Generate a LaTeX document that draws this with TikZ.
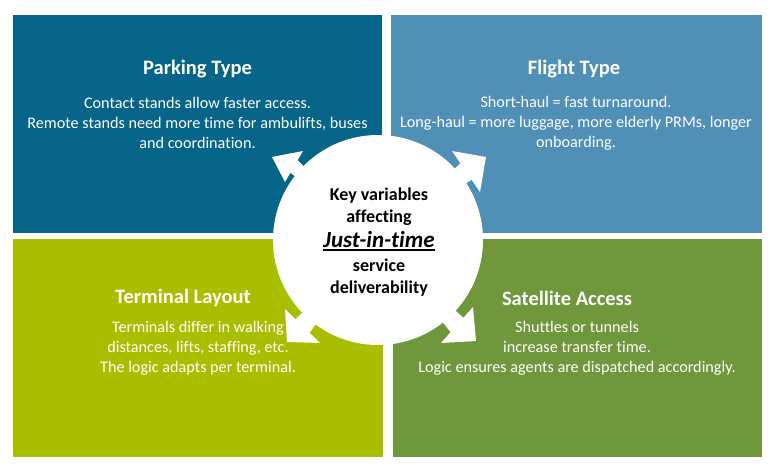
\documentclass[tikz,border=0pt]{standalone}
\usepackage{fontspec}
\setmainfont{Carlito}[Ligatures=NoCommon]
\usetikzlibrary{calc}
\definecolor{parkcol}{RGB}{6,101,136}
\definecolor{flightcol}{RGB}{80,144,183}
\definecolor{termcol}{RGB}{170,190,0}
\definecolor{satcol}{RGB}{111,151,59}
\newcommand{\ulbox}[1]{\leavevmode\vtop{\hbox{#1}\kern1.5pt\hrule height 1.5pt}}
\newcommand{\arrowhead}[3]{\fill[white] #1 -- #2 -- ($#2!0.3!#3$) -- (Hub.center) -- ($#2!0.7!#3$) -- #3 -- cycle;}

\begin{document}
\begin{tikzpicture}[x=1pt,y=-1pt,
    quad/.style={anchor=north west,inner sep=0pt,minimum height=218pt},
    head/.style={text=white,font=\fontsize{20.5}{24}\selectfont\bfseries},
    body/.style={text=white,align=center,font=\fontsize{16.2}{20}\selectfont},
    hub/.style={circle,fill=white,minimum size=210pt,inner sep=0pt}]

        \useasboundingbox (0,0) rectangle (770,467);

        \node[quad,fill=parkcol,minimum width=369pt]   (Park)   at (13,15)  {};
        \node[quad,fill=flightcol,minimum width=371pt] (Flight) at (391,15) {};
        \node[quad,fill=termcol,minimum width=370pt]   (Term)   at (13,239) {};
        \node[quad,fill=satcol,minimum width=369pt]    (Sat)    at (393,239) {};

        \node[head] (ParkT)   at (197.5,69) {Parking Type};
        \node[body] (ParkB)   at (197.5,123) {Contact stands allow faster access.\\
                Remote stands need more time for ambulifts, buses\\ and coordination.};
        \node[head] (FlightT) at (574,69)  {Flight Type};
        \node[body] (FlightB) at (576,123) {Short-haul = fast turnaround.\\
                Long-haul = more luggage, more elderly PRMs, longer\\ onboarding.};
        \node[head] (TermT)   at (183,298) {Terminal Layout};
        \node[body] (TermB)   at (198,348) {Terminals differ in walking\\
                distances, lifts, staffing, etc.\\ The logic adapts per terminal.};
        \node[head] (SatT)    at (567,298) {Satellite Access};
        \node[body] (SatB)    at (577,348) {Shuttles or tunnels\\
                increase transfer time.\\ Logic ensures agents are dispatched accordingly.};

        \node[hub] (Hub) at (378,240) {};
        \arrowhead{(272,157)}{(303,151)}{(285,182)}
        \arrowhead{(486,157)}{(452,151)}{(480,192)}
        \arrowhead{(287,342)}{(285,309)}{(320,343)}
        \arrowhead{(476,341)}{(473,307)}{(441,343)}

        \node[align=center,font=\fontsize{18}{22}\selectfont\bfseries] (HubT) at (379,242)
                {Key variables\\ affecting\\[3pt]
                {\fontsize{23}{25}\selectfont\itshape\ulbox{Just-in-time}}\\[2pt]
                service\\ deliverability};
\end{tikzpicture}
\end{document}
